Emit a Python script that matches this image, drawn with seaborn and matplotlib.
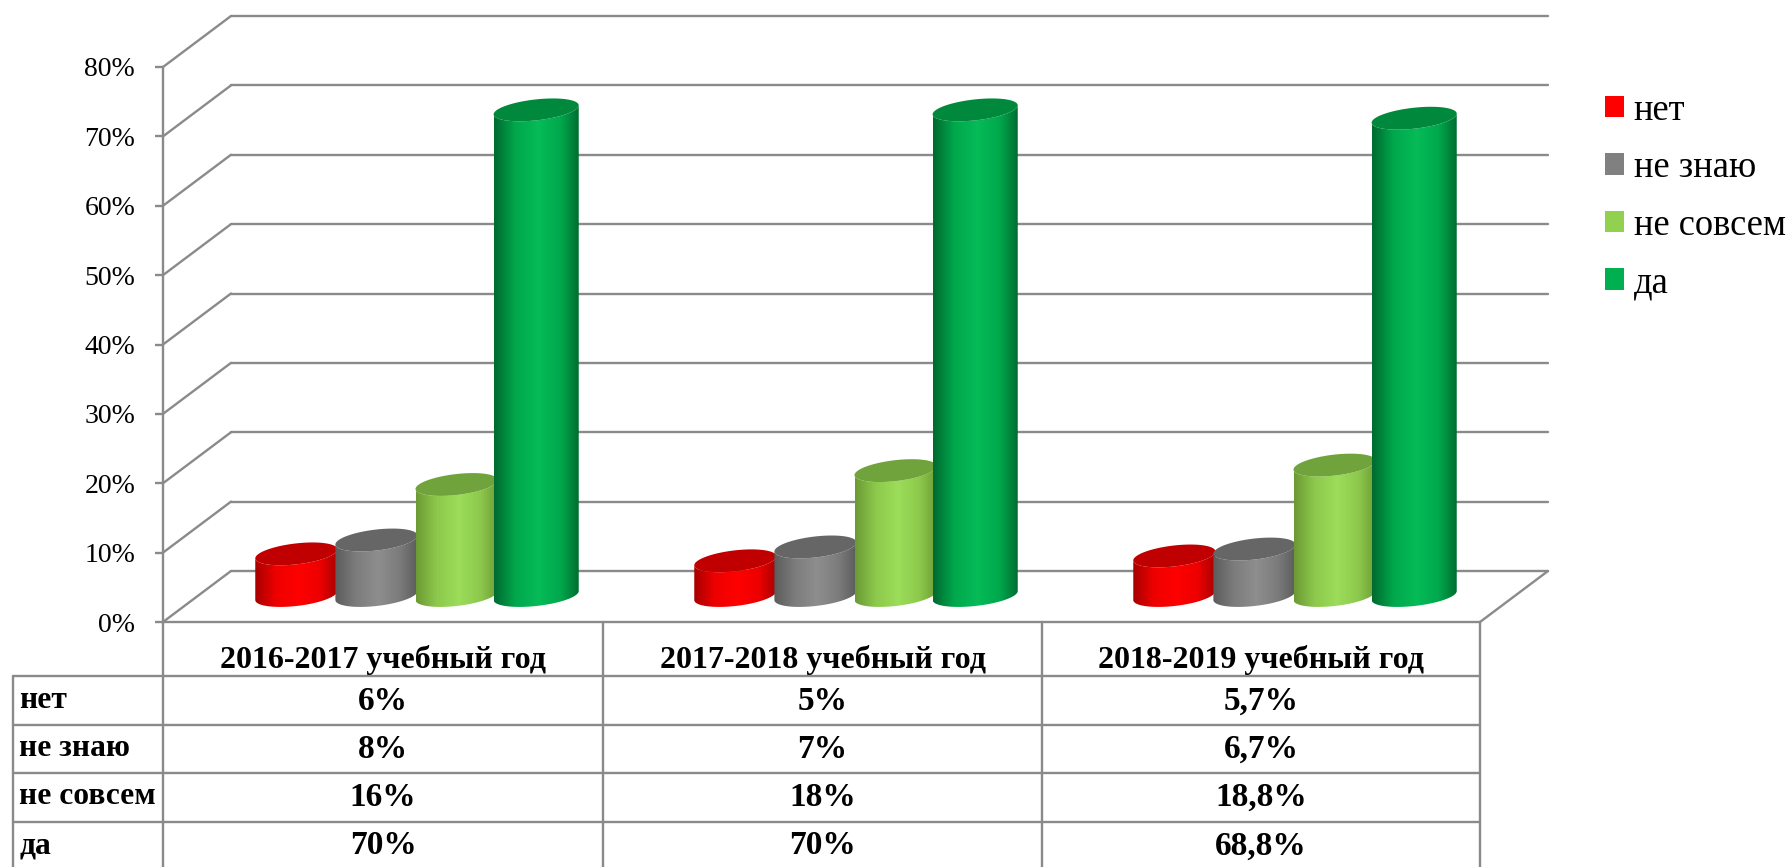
import numpy as np
import pandas as pd
import matplotlib
matplotlib.use("Agg")
import matplotlib.pyplot as plt
import seaborn as sns
from matplotlib.colors import LinearSegmentedColormap
from matplotlib.lines import Line2D
from matplotlib.patches import Patch, Polygon

years = ["2016-2017 учебный год", "2017-2018 учебный год", "2018-2019 учебный год"]
answers = ["нет", "не знаю", "не совсем", "да"]
net = [6, 5, 5.7]
ne_znayu = [8, 7, 6.7]
ne_sovsem = [16, 18, 18.8]
da = [70, 70, 68.8]
y_ticks = [0, 10, 20, 30, 40, 50, 60, 70, 80]

series = [net, ne_znayu, ne_sovsem, da]

# legend colour, side gradient (edge, mid, highlight), lid colour
legend_colors = ["#ff0000", "#808080", "#92d050", "#00b050"]
side_colors = [
    ("#a80000", "#ee0000", "#ff0000"),
    ("#5c5c5c", "#7c7c7c", "#8e8e8e"),
    ("#6c9a34", "#8dc94c", "#9cdd5a"),
    ("#006a30", "#00a84c", "#06bb58"),
]
lid_colors = ["#c00000", "#666666", "#70a33c", "#00893c"]
LINE = "#8a8a8a"
LW = 1.7

sns.set_theme(style="white")
plt.rcParams["font.family"] = ["Liberation Serif", "DejaVu Serif"]
plt.rcParams["text.color"] = "black"

W, H = 1791, 867
fig = plt.figure(figsize=(W / 100, H / 100), dpi=100, facecolor="white")
ax = fig.add_axes([163 / W, (H - 622) / H, 1317 / W, 555 / H])

rows = []
for answer, values in zip(answers, series):
    for year, value in zip(years, values):
        rows.append({"year": year, "answer": answer, "value": value})
df = pd.DataFrame(rows)

sns.barplot(data=df, x="year", y="value", hue="answer", order=years, hue_order=answers,
            palette=legend_colors, width=0.73, legend=False, ax=ax)

ax.set_xlim(-0.5, 2.5)
ax.set_ylim(0, 80)
x_per_px = 3 / 1317
y_per_px = 80 / 555
depth_x = 68 * x_per_px
depth_y = 51 * y_per_px

# walls of the 3d box
for v in y_ticks:
    ax.plot([-0.5, -0.5 + depth_x], [v, v + depth_y], color=LINE, lw=LW, clip_on=False, zorder=1)
    ax.plot([-0.5 + depth_x, 2.5 + depth_x], [v + depth_y, v + depth_y], color=LINE, lw=LW,
            clip_on=False, zorder=1)
ax.plot([2.5, 2.5 + depth_x], [0, depth_y], color=LINE, lw=LW, clip_on=False, zorder=1)

# cylinders from the bars seaborn placed
a_t = np.linspace(0, 2 * np.pi, 120)
b = 10.5 * y_per_px
tilt = 4.5 * y_per_px
z = 5
for i, patch in enumerate(list(ax.patches)):
    k = i // 3
    patch.set_visible(False)
    grow = 5 * x_per_px if k == 3 else 2 * x_per_px   # tall bars are a bit wider in the picture
    x0 = patch.get_x() + depth_x / 2 - (3 * x_per_px if k == 3 else x_per_px)
    w = patch.get_width() + grow
    cx = x0 + w / 2
    base = depth_y / 2 + 1 * y_per_px
    top = base + patch.get_height()

    t_low = np.linspace(0, -np.pi, 60)
    top_x = cx + w / 2 * np.cos(t_low[::-1])
    top_y = top + b * np.sin(t_low[::-1]) + tilt * np.cos(t_low[::-1])
    bot_x = cx + w / 2 * np.cos(t_low)
    bot_y = base + b * np.sin(t_low) + tilt * np.cos(t_low)
    outline = np.column_stack([np.r_[top_x, bot_x], np.r_[top_y, bot_y]])

    edge, mid, high = side_colors[k]
    cmap = LinearSegmentedColormap.from_list(
        "side", [(0, edge), (0.25, mid), (0.52, high), (0.78, mid), (1, edge)])
    body = Polygon(outline, closed=True, transform=ax.transData, facecolor="none", edgecolor="none")
    ax.add_patch(body)
    im = ax.imshow(np.linspace(0, 1, 128)[None, :], cmap=cmap, aspect="auto", zorder=z,
                   extent=(cx - w / 2, cx + w / 2, base - 3, top + 3), clip_on=True)
    im.set_clip_path(body)

    lid_x = cx + w / 2 * np.cos(a_t)
    lid_y = top + b * np.sin(a_t) + tilt * np.cos(a_t)
    ax.add_patch(Polygon(np.column_stack([lid_x, lid_y]), closed=True, facecolor=lid_colors[k],
                         edgecolor="none", clip_on=False, zorder=z + 0.5))
    z += 1

ax.set_xlim(-0.5, 2.5)
ax.set_ylim(0, 80)

ax.set_xlabel("")
ax.set_ylabel("")
ax.set_xticks([])
ax.set_yticks(y_ticks)
ax.set_yticklabels([f"{v}%" for v in y_ticks], fontsize=20, color="black")
ax.tick_params(axis="y", left=True, length=6, width=LW, color=LINE, pad=14)
ax.patch.set_visible(False)
for side in ["top", "right"]:
    ax.spines[side].set_visible(False)
for side in ["left", "bottom"]:
    ax.spines[side].set_color(LINE)
    ax.spines[side].set_linewidth(LW)

# data table under the plot, pixel coordinates
tb = fig.add_axes([0, 0, 1, 1], zorder=-1)
tb.set_xlim(0, W)
tb.set_ylim(H, 0)
tb.axis("off")
col_edges = [163, 603, 1042, 1480]
row_edges = [676, 725, 773, 822]
row_centers = [701, 749, 797, 846]
for x in col_edges:
    tb.add_line(Line2D([x, x], [622, H], color=LINE, lw=LW))
tb.add_line(Line2D([13, 13], [676, H], color=LINE, lw=LW))
for y in row_edges:
    tb.add_line(Line2D([13, 1480], [y, y], color=LINE, lw=LW))
for j, year in enumerate(years):
    cx = (col_edges[j] + col_edges[j + 1]) / 2
    tb.text(cx, 660, year, ha="center", va="center", fontsize=23, fontweight="bold")
    for r, values in enumerate(series):
        label = f"{values[j]:g}".replace(".", ",") + "%"
        tb.text(cx, row_centers[r], label, ha="center", va="center", fontsize=24, fontweight="bold")
for r, answer in enumerate(answers):
    tb.text(19, row_centers[r], answer, ha="left", va="center", fontsize=22.7, fontweight="bold")

handles = [Patch(facecolor=c, edgecolor="none") for c in legend_colors]
fig.legend(handles, answers, loc="upper left", bbox_to_anchor=(1605 / W, 1 - 93 / H), frameon=False,
           fontsize=26.3, handlelength=0.52, handleheight=0.52, handletextpad=0.27,
           labelspacing=0.63, borderpad=0, borderaxespad=0)

fig.savefig("out.png", dpi=100, facecolor="white")
